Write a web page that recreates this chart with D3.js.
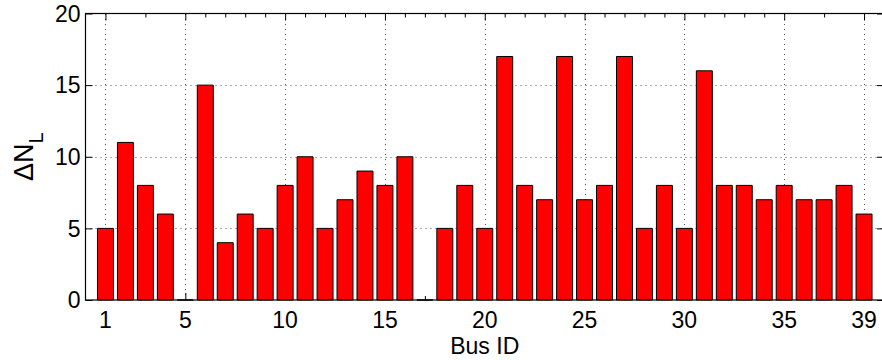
<!DOCTYPE html>
<html>
<head>
<meta charset="utf-8">
<script src="https://cdn.jsdelivr.net/npm/d3@7"></script>
<style>
  html, body { margin: 0; padding: 0; background: #fff; }
  svg { display: block; }
  text { font-family: "Liberation Sans", Arial, Helvetica, sans-serif; fill: #000; }
</style>
</head>
<body>
<svg id="chart" width="882" height="360"></svg>
<script>
// Change in line count per bus
const busIds = d3.range(1, 40);
const deltaNL = [5, 11, 8, 6, 0, 15, 4, 6, 5, 8,
                 10, 5, 7, 9, 8, 10, 0, 5, 8, 5,
                 17, 8, 7, 17, 7, 8, 17, 5, 8, 5,
                 16, 8, 8, 7, 8, 7, 7, 8, 6];
const xMajorTicks = [1, 5, 10, 15, 20, 25, 30, 35, 39];
const xMinorTicks = [3, 6, 7, 8, 9, 11, 12, 13, 14, 16, 17, 18, 19, 21, 22, 23, 24,
                     26, 27, 28, 29, 31, 32, 33, 34, 37];
const yTicks = [0, 5, 10, 15, 20];
const xLabel = "Bus ID";

const svg = d3.select("#chart");
const x = d3.scaleLinear().domain([0, 40]).range([85.5, 884]);
const y = d3.scaleLinear().domain([0, 20]).range([300, 13.5]);
const [xl, xr] = x.range();
const [yb, yt] = y.range();

// dotted grid at the labelled ticks
const grid = svg.append("g")
  .attr("stroke", "#555").attr("stroke-width", 1).attr("stroke-dasharray", "1,4");
grid.selectAll("line.v").data(xMajorTicks).join("line")
  .attr("x1", d => Math.round(x(d)) + 0.5).attr("x2", d => Math.round(x(d)) + 0.5)
  .attr("y1", yb).attr("y2", yt);
grid.selectAll("line.h").data(yTicks.filter(d => d > 0 && d < 20)).join("line")
  .attr("x1", xl).attr("x2", xr)
  .attr("y1", d => Math.round(y(d)) + 0.5).attr("y2", d => Math.round(y(d)) + 0.5);

// inward ticks on all four sides
const tickStyle = g => {
  g.select(".domain").remove();
  g.selectAll(".tick line").attr("stroke", "#000").attr("stroke-width", 1);
  g.selectAll(".tick text").remove();
};
svg.append("g").attr("transform", `translate(0,${yb})`)
  .call(d3.axisBottom(x).tickValues(xMajorTicks).tickSize(-7).tickSizeOuter(0)).call(tickStyle);
svg.append("g").attr("transform", `translate(0,${yb})`)
  .call(d3.axisBottom(x).tickValues(xMinorTicks).tickSize(-4).tickSizeOuter(0)).call(tickStyle);
svg.append("g").attr("transform", `translate(0,${yt})`)
  .call(d3.axisTop(x).tickValues(xMajorTicks).tickSize(-7).tickSizeOuter(0)).call(tickStyle);
svg.append("g").attr("transform", `translate(0,${yt})`)
  .call(d3.axisTop(x).tickValues(xMinorTicks).tickSize(-4).tickSizeOuter(0)).call(tickStyle);
svg.append("g").attr("transform", `translate(${xl},0)`)
  .call(d3.axisLeft(y).tickValues(yTicks).tickSize(-7).tickSizeOuter(0)).call(tickStyle);
svg.append("g").attr("transform", `translate(${xr},0)`)
  .call(d3.axisRight(y).tickValues(yTicks).tickSize(-7).tickSizeOuter(0)).call(tickStyle);

// axes box
svg.append("rect")
  .attr("x", xl).attr("y", yt).attr("width", xr - xl).attr("height", yb - yt)
  .attr("fill", "none").attr("stroke", "#000").attr("stroke-width", 1.2);

// bars (paths so that zero-height bars still show their edge)
const halfW = 0.4;
svg.append("g").selectAll("path").data(busIds).join("path")
  .attr("d", (d, i) => {
    const x0 = x(d - halfW), x1 = x(d + halfW);
    const y0 = y(0), y1 = y(deltaNL[i]);
    return `M${x0},${y0}V${y1}H${x1}V${y0}Z`;
  })
  .attr("fill", "#ff0000").attr("stroke", "#000").attr("stroke-width", 1);

// tick labels
svg.append("g").selectAll("text").data(xMajorTicks).join("text")
  .attr("x", d => x(d)).attr("y", 328)
  .attr("text-anchor", "middle").attr("font-size", 23)
  .text(d => d);
svg.append("g").selectAll("text").data(yTicks).join("text")
  .attr("x", xl - 5).attr("y", d => y(d)).attr("dy", "0.36em")
  .attr("text-anchor", "end").attr("font-size", 23)
  .text(d => d);

// axis titles
svg.append("text")
  .attr("x", (xl + xr) / 2).attr("y", 354)
  .attr("text-anchor", "middle").attr("font-size", 23)
  .text(xLabel);

const yTitle = svg.append("text")
  .attr("transform", `translate(33,${(yb + yt) / 2}) rotate(-90)`)
  .attr("text-anchor", "middle").attr("font-size", 27);
yTitle.append("tspan").text("\u0394N");
yTitle.append("tspan").attr("font-size", 20).attr("dy", 10).text("L");
</script>
</body>
</html>
